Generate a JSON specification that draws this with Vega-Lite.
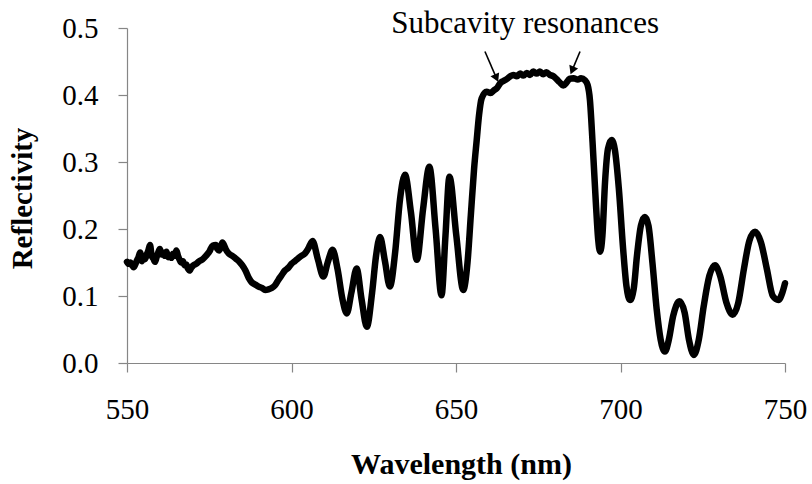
{
  "$schema": "https://vega.github.io/schema/vega-lite/v6.json",
  "width": 658,
  "height": 335,
  "autosize": "none",
  "padding": {"left": 127, "top": 28, "right": 27, "bottom": 121},
  "background": "white",
  "config": {
    "view": {"stroke": null},
    "font": "Liberation Serif",
    "axis": {"labelFont": "Liberation Serif", "titleFont": "Liberation Serif"},
    "text": {"font": "Liberation Serif"}
  },
  "datasets": {
    "spectrum": [
      {"wavelength": 550, "reflectivity": 0.151},
      {"wavelength": 550.5, "reflectivity": 0.148},
      {"wavelength": 551, "reflectivity": 0.150},
      {"wavelength": 551.5, "reflectivity": 0.146},
      {"wavelength": 552, "reflectivity": 0.143},
      {"wavelength": 552.5, "reflectivity": 0.147},
      {"wavelength": 553, "reflectivity": 0.153},
      {"wavelength": 553.5, "reflectivity": 0.158},
      {"wavelength": 554, "reflectivity": 0.165},
      {"wavelength": 554.5, "reflectivity": 0.152},
      {"wavelength": 555, "reflectivity": 0.160},
      {"wavelength": 555.5, "reflectivity": 0.155},
      {"wavelength": 556, "reflectivity": 0.162},
      {"wavelength": 556.5, "reflectivity": 0.168},
      {"wavelength": 557, "reflectivity": 0.176},
      {"wavelength": 557.5, "reflectivity": 0.160},
      {"wavelength": 558, "reflectivity": 0.156},
      {"wavelength": 558.5, "reflectivity": 0.151},
      {"wavelength": 559, "reflectivity": 0.158},
      {"wavelength": 559.5, "reflectivity": 0.165},
      {"wavelength": 560, "reflectivity": 0.170},
      {"wavelength": 560.5, "reflectivity": 0.162},
      {"wavelength": 561, "reflectivity": 0.165},
      {"wavelength": 561.5, "reflectivity": 0.160},
      {"wavelength": 562, "reflectivity": 0.166},
      {"wavelength": 562.5, "reflectivity": 0.158},
      {"wavelength": 563, "reflectivity": 0.161},
      {"wavelength": 563.5, "reflectivity": 0.157},
      {"wavelength": 564, "reflectivity": 0.163},
      {"wavelength": 564.5, "reflectivity": 0.160},
      {"wavelength": 565, "reflectivity": 0.168},
      {"wavelength": 565.5, "reflectivity": 0.160},
      {"wavelength": 566, "reflectivity": 0.154},
      {"wavelength": 566.5, "reflectivity": 0.150},
      {"wavelength": 567, "reflectivity": 0.152},
      {"wavelength": 567.5, "reflectivity": 0.146},
      {"wavelength": 568, "reflectivity": 0.147},
      {"wavelength": 568.5, "reflectivity": 0.141},
      {"wavelength": 569, "reflectivity": 0.138},
      {"wavelength": 569.5, "reflectivity": 0.142},
      {"wavelength": 570, "reflectivity": 0.145},
      {"wavelength": 571, "reflectivity": 0.148},
      {"wavelength": 572, "reflectivity": 0.152},
      {"wavelength": 573, "reflectivity": 0.155},
      {"wavelength": 574, "reflectivity": 0.160},
      {"wavelength": 575, "reflectivity": 0.166},
      {"wavelength": 576, "reflectivity": 0.175},
      {"wavelength": 577, "reflectivity": 0.176},
      {"wavelength": 577.5, "reflectivity": 0.170},
      {"wavelength": 578, "reflectivity": 0.168},
      {"wavelength": 578.5, "reflectivity": 0.173},
      {"wavelength": 579, "reflectivity": 0.180},
      {"wavelength": 579.5, "reflectivity": 0.176},
      {"wavelength": 580, "reflectivity": 0.170},
      {"wavelength": 581, "reflectivity": 0.163},
      {"wavelength": 582, "reflectivity": 0.160},
      {"wavelength": 583, "reflectivity": 0.156},
      {"wavelength": 584, "reflectivity": 0.152},
      {"wavelength": 585, "reflectivity": 0.146},
      {"wavelength": 586, "reflectivity": 0.138},
      {"wavelength": 587, "reflectivity": 0.127},
      {"wavelength": 588, "reflectivity": 0.120},
      {"wavelength": 589, "reflectivity": 0.117},
      {"wavelength": 590, "reflectivity": 0.114},
      {"wavelength": 591, "reflectivity": 0.112},
      {"wavelength": 592, "reflectivity": 0.109},
      {"wavelength": 593, "reflectivity": 0.110},
      {"wavelength": 594, "reflectivity": 0.112},
      {"wavelength": 595, "reflectivity": 0.116},
      {"wavelength": 596, "reflectivity": 0.124},
      {"wavelength": 597, "reflectivity": 0.131},
      {"wavelength": 598, "reflectivity": 0.138},
      {"wavelength": 599, "reflectivity": 0.142},
      {"wavelength": 600, "reflectivity": 0.148},
      {"wavelength": 601, "reflectivity": 0.152},
      {"wavelength": 602, "reflectivity": 0.156},
      {"wavelength": 603, "reflectivity": 0.160},
      {"wavelength": 604, "reflectivity": 0.163},
      {"wavelength": 605, "reflectivity": 0.170},
      {"wavelength": 606.4, "reflectivity": 0.182},
      {"wavelength": 608, "reflectivity": 0.155},
      {"wavelength": 609.7, "reflectivity": 0.129},
      {"wavelength": 611, "reflectivity": 0.150},
      {"wavelength": 612.5, "reflectivity": 0.169},
      {"wavelength": 614, "reflectivity": 0.140},
      {"wavelength": 615.5, "reflectivity": 0.095},
      {"wavelength": 616.8, "reflectivity": 0.074},
      {"wavelength": 618.2, "reflectivity": 0.105},
      {"wavelength": 619.8, "reflectivity": 0.141},
      {"wavelength": 621.3, "reflectivity": 0.095},
      {"wavelength": 622.9, "reflectivity": 0.054},
      {"wavelength": 624.5, "reflectivity": 0.105},
      {"wavelength": 625.7, "reflectivity": 0.160},
      {"wavelength": 626.9, "reflectivity": 0.188},
      {"wavelength": 628.4, "reflectivity": 0.152},
      {"wavelength": 629.9, "reflectivity": 0.114},
      {"wavelength": 631.5, "reflectivity": 0.165},
      {"wavelength": 633, "reflectivity": 0.245},
      {"wavelength": 634.5, "reflectivity": 0.281},
      {"wavelength": 636.3, "reflectivity": 0.225},
      {"wavelength": 638.1, "reflectivity": 0.154},
      {"wavelength": 640, "reflectivity": 0.230},
      {"wavelength": 641.9, "reflectivity": 0.293},
      {"wavelength": 643.8, "reflectivity": 0.200},
      {"wavelength": 645.6, "reflectivity": 0.101},
      {"wavelength": 646.8, "reflectivity": 0.190},
      {"wavelength": 648, "reflectivity": 0.278},
      {"wavelength": 650.1, "reflectivity": 0.190},
      {"wavelength": 652.2, "reflectivity": 0.109},
      {"wavelength": 653.5, "reflectivity": 0.150},
      {"wavelength": 654.5, "reflectivity": 0.220},
      {"wavelength": 655.5, "reflectivity": 0.290},
      {"wavelength": 656.3, "reflectivity": 0.333},
      {"wavelength": 657, "reflectivity": 0.370},
      {"wavelength": 657.8, "reflectivity": 0.395},
      {"wavelength": 659.3, "reflectivity": 0.405},
      {"wavelength": 660.5, "reflectivity": 0.403},
      {"wavelength": 661.5, "reflectivity": 0.407},
      {"wavelength": 662.4, "reflectivity": 0.410},
      {"wavelength": 663.5, "reflectivity": 0.418},
      {"wavelength": 664.4, "reflectivity": 0.421},
      {"wavelength": 665.5, "reflectivity": 0.424},
      {"wavelength": 666.5, "reflectivity": 0.428},
      {"wavelength": 667.4, "reflectivity": 0.430},
      {"wavelength": 668.5, "reflectivity": 0.428},
      {"wavelength": 669.5, "reflectivity": 0.432},
      {"wavelength": 670.5, "reflectivity": 0.429},
      {"wavelength": 671.5, "reflectivity": 0.433},
      {"wavelength": 672.5, "reflectivity": 0.430},
      {"wavelength": 673.5, "reflectivity": 0.435},
      {"wavelength": 674.5, "reflectivity": 0.432},
      {"wavelength": 675.5, "reflectivity": 0.435},
      {"wavelength": 676.5, "reflectivity": 0.431},
      {"wavelength": 677.5, "reflectivity": 0.434},
      {"wavelength": 678.5, "reflectivity": 0.430},
      {"wavelength": 679.6, "reflectivity": 0.428},
      {"wavelength": 680.5, "reflectivity": 0.424},
      {"wavelength": 681.5, "reflectivity": 0.419},
      {"wavelength": 682.6, "reflectivity": 0.414},
      {"wavelength": 683.5, "reflectivity": 0.418},
      {"wavelength": 684.5, "reflectivity": 0.424},
      {"wavelength": 685.7, "reflectivity": 0.425},
      {"wavelength": 687, "reflectivity": 0.423},
      {"wavelength": 688, "reflectivity": 0.425},
      {"wavelength": 689.2, "reflectivity": 0.422},
      {"wavelength": 690, "reflectivity": 0.415},
      {"wavelength": 690.7, "reflectivity": 0.393},
      {"wavelength": 691.5, "reflectivity": 0.330},
      {"wavelength": 692.5, "reflectivity": 0.240},
      {"wavelength": 693.2, "reflectivity": 0.185},
      {"wavelength": 693.8, "reflectivity": 0.166},
      {"wavelength": 694.5, "reflectivity": 0.190},
      {"wavelength": 695.3, "reflectivity": 0.270},
      {"wavelength": 696.2, "reflectivity": 0.320},
      {"wavelength": 697.3, "reflectivity": 0.333},
      {"wavelength": 698.3, "reflectivity": 0.318},
      {"wavelength": 699.5, "reflectivity": 0.260},
      {"wavelength": 700.8, "reflectivity": 0.170},
      {"wavelength": 701.8, "reflectivity": 0.115},
      {"wavelength": 702.9, "reflectivity": 0.094},
      {"wavelength": 704, "reflectivity": 0.110},
      {"wavelength": 705, "reflectivity": 0.160},
      {"wavelength": 706.2, "reflectivity": 0.205},
      {"wavelength": 707.4, "reflectivity": 0.218},
      {"wavelength": 708.5, "reflectivity": 0.205},
      {"wavelength": 709.7, "reflectivity": 0.150},
      {"wavelength": 711, "reflectivity": 0.080},
      {"wavelength": 712.2, "reflectivity": 0.035},
      {"wavelength": 713.5, "reflectivity": 0.017},
      {"wavelength": 714.7, "reflectivity": 0.035},
      {"wavelength": 716, "reflectivity": 0.070},
      {"wavelength": 717.9, "reflectivity": 0.092},
      {"wavelength": 719.5, "reflectivity": 0.075},
      {"wavelength": 720.8, "reflectivity": 0.035},
      {"wavelength": 722.3, "reflectivity": 0.012},
      {"wavelength": 723.8, "reflectivity": 0.035},
      {"wavelength": 725.3, "reflectivity": 0.085},
      {"wavelength": 727, "reflectivity": 0.130},
      {"wavelength": 728.7, "reflectivity": 0.146},
      {"wavelength": 730.3, "reflectivity": 0.130},
      {"wavelength": 732.2, "reflectivity": 0.090},
      {"wavelength": 734.1, "reflectivity": 0.072},
      {"wavelength": 735.8, "reflectivity": 0.090},
      {"wavelength": 737.5, "reflectivity": 0.140},
      {"wavelength": 739.2, "reflectivity": 0.183},
      {"wavelength": 740.9, "reflectivity": 0.196},
      {"wavelength": 742.7, "reflectivity": 0.180},
      {"wavelength": 744.5, "reflectivity": 0.140},
      {"wavelength": 746.3, "reflectivity": 0.100},
      {"wavelength": 748, "reflectivity": 0.094},
      {"wavelength": 749.2, "reflectivity": 0.105},
      {"wavelength": 750, "reflectivity": 0.119}
    ],
    "arrows": [
      {"name": "left", "x_start": 658.8, "y_start": 0.465, "x_end": 662.3, "y_end": 0.4252},
      {"name": "right", "x_start": 687.7, "y_start": 0.465, "x_end": 685.3, "y_end": 0.4367}
    ],
    "label": [
      {"text": "Subcavity resonances", "x": 671, "y": 0.4925}
    ]
  },
  "layer": [
    {
      "data": {"name": "spectrum"},
      "mark": {"type": "line", "color": "black", "strokeWidth": 6.5, "interpolate": "monotone", "strokeJoin": "round", "strokeCap": "round"},
      "encoding": {
        "x": {
          "field": "wavelength", "type": "quantitative",
          "scale": {"domain": [550, 750], "nice": false, "zero": false},
          "axis": {
            "values": [550, 600, 650, 700, 750], "grid": false,
            "domainColor": "#868686", "tickColor": "#868686", "tickSize": 9, "domainWidth": 1.2, "tickWidth": 1.2,
            "labelFont": "Liberation Serif", "labelFontSize": 29, "labelColor": "black", "labelPadding": 23,
            "labelFlush": false, "labelOverlap": false,
            "title": "Wavelength (nm)", "titleFont": "Liberation Serif", "titleFontSize": 30, "titleFontWeight": "bold",
            "titleColor": "black", "titleX": 334, "titleY": 110, "titleBaseline": "alphabetic", "titleAlign": "center"
          }
        },
        "y": {
          "field": "reflectivity", "type": "quantitative",
          "scale": {"domain": [0, 0.5], "nice": false},
          "axis": {
            "values": [0, 0.1, 0.2, 0.3, 0.4, 0.5], "format": ".1f", "grid": false,
            "domainColor": "#868686", "tickColor": "#868686", "tickSize": 9, "domainWidth": 1.2, "tickWidth": 1.2,
            "labelFont": "Liberation Serif", "labelFontSize": 29, "labelColor": "black", "labelPadding": 20,
            "labelFlush": false, "labelOverlap": false,
            "title": "Reflectivity", "titleFont": "Liberation Serif", "titleFontSize": 29, "titleFontWeight": "bold",
            "titleColor": "black", "titleX": -105, "titleY": 170, "titleAngle": -90, "titleBaseline": "middle", "titleAlign": "center"
          }
        }
      }
    },
    {
      "data": {"name": "arrows"},
      "mark": {"type": "rule", "color": "black", "strokeWidth": 1.6},
      "encoding": {
        "x": {"field": "x_start", "type": "quantitative"},
        "y": {"field": "y_start", "type": "quantitative"},
        "x2": {"field": "x_end"},
        "y2": {"field": "y_end"}
      }
    },
    {
      "data": {"name": "arrows"},
      "transform": [{"filter": "datum.name === 'left'"}],
      "mark": {"type": "point", "shape": "triangle-down", "filled": true, "color": "black", "opacity": 1, "size": 90, "angle": -24},
      "encoding": {
        "x": {"field": "x_end", "type": "quantitative"},
        "y": {"field": "y_end", "type": "quantitative"}
      }
    },
    {
      "data": {"name": "arrows"},
      "transform": [{"filter": "datum.name === 'right'"}],
      "mark": {"type": "point", "shape": "triangle-down", "filled": true, "color": "black", "opacity": 1, "size": 90, "angle": 23},
      "encoding": {
        "x": {"field": "x_end", "type": "quantitative"},
        "y": {"field": "y_end", "type": "quantitative"}
      }
    },
    {
      "data": {"name": "label"},
      "mark": {"type": "text", "font": "Liberation Serif", "fontSize": 31, "color": "black", "align": "center", "baseline": "alphabetic"},
      "encoding": {
        "x": {"field": "x", "type": "quantitative"},
        "y": {"field": "y", "type": "quantitative"},
        "text": {"field": "text"}
      }
    }
  ]
}
